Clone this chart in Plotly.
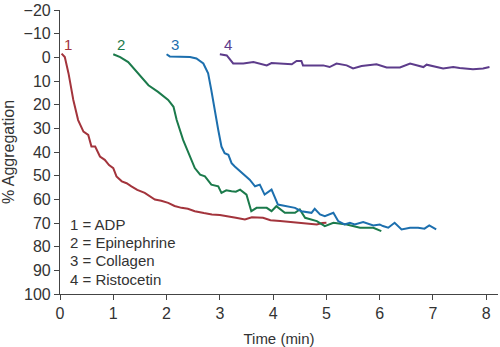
import plotly.graph_objects as go

# ---- data ----
adp_t = [0.03, 0.09, 0.16, 0.25, 0.34, 0.44, 0.53, 0.59, 0.66, 0.75, 0.84, 0.92, 1.0, 1.06, 1.16, 1.25, 1.34,
         1.45, 1.59, 1.7, 1.78, 1.9, 2.03, 2.15, 2.28, 2.4, 2.53, 2.7, 2.85, 3.0, 3.16, 3.3, 3.47, 3.6, 3.81,
         3.95, 4.13, 4.3, 4.44, 4.6, 4.82, 4.92, 5.0]
adp_v = [-1.6, -0.1, 6.8, 18.0, 26.5, 31.4, 32.8, 37.7, 37.7, 41.9, 43.3, 45.5, 46.8, 50.3, 52.4, 53.2, 54.5,
         56.0, 57.3, 59.0, 60.1, 60.6, 61.5, 62.8, 63.6, 64.0, 65.0, 65.8, 66.4, 66.6, 67.1, 67.8, 68.5, 67.6, 67.8,
         68.8, 69.2, 69.5, 69.9, 70.2, 70.6, 70.0, 69.9]

epi_t = [1.0, 1.13, 1.28, 1.47, 1.66, 1.84, 2.03, 2.13, 2.19, 2.31, 2.44, 2.53, 2.63, 2.72, 2.84, 2.97,
         3.03, 3.12, 3.22, 3.3, 3.38, 3.5, 3.59, 3.69, 3.88, 3.97, 4.06, 4.22, 4.41, 4.5, 4.6, 4.82, 4.97,
         5.13, 5.38, 5.63, 5.88, 5.94, 6.03]
epi_v = [-1.3, -0.1, 2.0, 6.8, 11.8, 14.6, 18.0, 20.9, 26.5, 34.9, 41.9, 46.8, 49.6, 50.3, 53.8, 54.5,
         57.3, 56.2, 56.6, 56.8, 55.9, 58.0, 65.0, 63.6, 63.6, 65.0, 62.9, 65.7, 65.7, 64.3, 67.8, 69.2, 71.3,
         69.9, 70.6, 72.0, 72.0, 72.7, 73.4]

col_t = [2.0, 2.06, 2.44, 2.56, 2.69, 2.78, 2.84, 2.91, 2.97, 3.03, 3.09, 3.16, 3.22, 3.28, 3.38, 3.5,
         3.56, 3.66, 3.75, 3.84, 3.97, 4.09, 4.25, 4.41, 4.53, 4.72, 4.78, 4.88, 4.97, 5.13, 5.22, 5.34, 5.44,
         5.53, 5.69, 5.88, 6.0, 6.06, 6.16, 6.28, 6.41, 6.57, 6.72, 6.84, 6.93, 7.0, 7.06]
col_v = [-1.3, -0.4, -0.1, 0.5, 2.6, 6.8, 13.9, 23.7, 30.7, 37.7, 40.5, 41.2, 44.7, 46.1, 48.2, 50.3,
         51.7, 54.5, 53.8, 58.0, 55.9, 62.2, 62.9, 63.6, 65.0, 65.7, 64.0, 66.4, 67.1, 65.7, 69.2, 70.6, 69.9,
         70.6, 69.6, 71.0, 70.6, 71.3, 72.0, 69.9, 72.7, 72.0, 72.0, 72.4, 71.0, 72.0, 72.7]

ris_t = [3.0, 3.13, 3.25, 3.44, 3.63, 3.88, 3.97, 4.13, 4.35, 4.44, 4.53, 4.56, 4.94, 5.06, 5.19, 5.38,
         5.5, 5.66, 5.94, 6.13, 6.38, 6.57, 6.82, 6.88, 7.19, 7.38, 7.5, 7.75, 7.94, 8.06]
ris_v = [-1.3, -0.8, 2.6, 2.6, 2.0, 3.4, 2.4, 2.6, 2.9, 1.5, 1.5, 3.4, 3.4, 4.1, 2.6, 3.4,
         4.7, 3.7, 2.9, 4.3, 4.3, 2.6, 4.1, 3.1, 4.7, 4.1, 4.5, 5.0, 4.7, 4.1]

series = [
    ("1", adp_t, adp_v, "#a3343c", 0.15),
    ("2", epi_t, epi_v, "#1b7a4b", 1.14),
    ("3", col_t, col_v, "#1c6fae", 2.16),
    ("4", ris_t, ris_v, "#5d3c8b", 3.15),
]
legend_lines = ["1 = ADP", "2 = Epinephrine", "3 = Collagen", "4 = Ristocetin"]
legend_y = [70.6, 78.3, 86.0, 93.7]
y_ticks = [-20, -10, 0, 10, 20, 30, 40, 50, 60, 70, 80, 90, 100]
x_ticks = [0, 1, 2, 3, 4, 5, 6, 7, 8]

FONT = "Liberation Sans, Arial, sans-serif"
TXT = "#333333"

fig = go.Figure()
annotations = []
for name, t, v, c, lx in series:
    fig.add_trace(go.Scatter(x=t, y=v, mode="lines", line=dict(color=c, width=2), showlegend=False))
    annotations.append(dict(x=lx, y=-5.3, xref="x", yref="y", text=name, showarrow=False,
                            font=dict(family=FONT, size=15, color=c), xanchor="center", yanchor="middle"))
for txt, yy in zip(legend_lines, legend_y):
    annotations.append(dict(x=0.15, y=yy, xref="x", yref="y", text=txt, showarrow=False,
                            font=dict(family=FONT, size=15, color=TXT), xanchor="left", yanchor="middle"))

fig.update_layout(
    width=500, height=347,
    margin=dict(l=60, r=2, t=9, b=52),
    paper_bgcolor="white", plot_bgcolor="white",
    font=dict(family=FONT, size=15, color=TXT),
    annotations=annotations,
    xaxis=dict(range=[0, 8.22], tickvals=x_ticks, showgrid=False, zeroline=False,
               showline=True, linecolor="#444", linewidth=1.2, ticks="outside", ticklen=5,
               tickcolor="#444", tickfont=dict(size=16),
               title=dict(text="Time (min)", standoff=12, font=dict(size=15))),
    yaxis=dict(range=[100, -20], tickvals=y_ticks, showgrid=False, zeroline=False,
               showline=True, linecolor="#444", linewidth=1.2, ticks="outside", ticklen=5,
               tickcolor="#444", tickfont=dict(size=16),
               title=dict(text="% Aggregation", standoff=4, font=dict(size=16))),
)
fig.write_html("out.html")
